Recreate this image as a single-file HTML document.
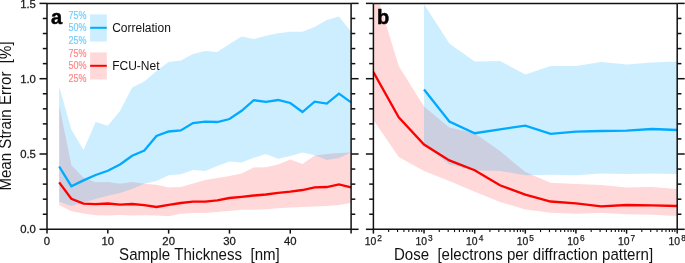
<!DOCTYPE html><html><head><meta charset="utf-8"><style>
html,body{margin:0;padding:0;background:#fff;width:685px;height:263px;overflow:hidden}
svg{display:block;will-change:transform}text{font-family:"Liberation Sans",sans-serif}
</style></head><body>
<svg width="685" height="263" viewBox="0 0 685 263">
<defs><clipPath id="ca"><rect x="47.00" y="3.40" width="304.10" height="225.90"/></clipPath>
<clipPath id="cb"><rect x="373.40" y="3.40" width="303.80" height="225.90"/></clipPath></defs>
<g clip-path="url(#ca)">
<polygon points="59.16,105.00 71.33,165.00 83.49,177.70 95.66,182.30 107.82,182.00 119.98,183.80 132.15,182.10 144.31,183.80 156.48,184.80 168.64,187.40 180.80,187.00 192.97,183.50 205.13,180.00 217.30,178.00 229.46,176.00 241.62,173.40 253.79,167.60 265.95,167.30 278.12,164.50 290.28,159.40 302.44,164.00 314.61,155.60 326.77,154.00 338.94,153.00 351.10,152.40 351.10,203.00 338.94,205.00 326.77,206.00 314.61,206.60 302.44,207.00 290.28,207.40 278.12,208.30 265.95,209.30 253.79,209.70 241.62,209.70 229.46,211.00 217.30,212.00 205.13,213.00 192.97,213.00 180.80,213.80 168.64,216.20 156.48,215.50 144.31,215.20 132.15,215.60 119.98,215.00 107.82,215.40 95.66,215.20 83.49,213.60 71.33,211.30 59.16,205.00" fill="rgb(255,217,217)"/>
<polygon points="59.16,86.40 71.33,129.40 83.49,150.00 95.66,122.00 107.82,125.70 119.98,111.00 132.15,87.50 144.31,81.50 156.48,71.00 168.64,62.00 180.80,60.60 192.97,54.00 205.13,51.00 217.30,52.00 229.46,44.00 241.62,36.40 253.79,39.00 265.95,35.80 278.12,33.30 290.28,31.80 302.44,31.80 314.61,27.00 326.77,20.00 338.94,16.60 351.10,31.80 351.10,152.40 338.94,158.00 326.77,160.00 314.61,155.30 302.44,152.40 290.28,156.00 278.12,158.70 265.95,154.00 253.79,157.80 241.62,162.40 229.46,161.60 217.30,166.00 205.13,171.00 192.97,170.00 180.80,174.20 168.64,175.30 156.48,181.00 144.31,183.80 132.15,189.00 119.98,193.00 107.82,195.70 95.66,199.00 83.49,202.50 71.33,205.90 59.16,201.70" fill="rgba(0,170,255,0.2)"/>
<polyline points="59.16,182.40 71.33,198.80 83.49,203.60 95.66,204.10 107.82,203.50 119.98,204.70 132.15,204.00 144.31,205.20 156.48,207.00 168.64,204.80 180.80,203.00 192.97,201.70 205.13,201.60 217.30,200.40 229.46,198.00 241.62,196.80 253.79,195.50 265.95,194.50 278.12,192.80 290.28,191.60 302.44,190.00 314.61,187.40 326.77,187.00 338.94,184.40 351.10,187.40" fill="none" stroke="#ff0000" stroke-width="2.3" stroke-linejoin="miter"/>
<polyline points="59.16,166.50 71.33,186.20 83.49,180.40 95.66,175.00 107.82,170.80 119.98,164.40 132.15,155.70 144.31,150.60 156.48,136.00 168.64,131.50 180.80,130.40 192.97,123.00 205.13,121.60 217.30,122.00 229.46,119.00 241.62,110.80 253.79,100.20 265.95,101.80 278.12,100.00 290.28,103.00 302.44,112.00 314.61,101.60 326.77,103.60 338.94,93.60 351.10,102.40" fill="none" stroke="#00aaff" stroke-width="2.3" stroke-linejoin="miter"/>
</g>
<g clip-path="url(#cb)">
<polygon points="373.40,-17.00 398.72,66.00 424.03,106.50 449.35,127.40 474.67,133.30 499.98,151.00 525.30,172.00 550.62,182.80 575.93,184.00 601.25,185.00 626.57,187.40 651.88,187.00 677.20,189.00 677.20,216.00 651.88,214.80 626.57,214.30 601.25,213.00 575.93,213.80 550.62,212.80 525.30,209.40 499.98,202.00 474.67,191.80 449.35,181.00 424.03,171.00 398.72,157.00 373.40,120.00" fill="rgb(255,217,217)"/>
<polygon points="424.03,4.20 449.35,43.60 474.67,61.60 499.98,61.00 525.30,74.40 550.62,66.00 575.93,66.00 601.25,62.00 626.57,64.40 651.88,62.40 677.20,61.60 677.20,174.00 651.88,173.40 626.57,174.00 601.25,173.40 575.93,175.20 550.62,174.80 525.30,175.20 499.98,171.00 474.67,170.50 449.35,164.50 424.03,145.00" fill="rgba(0,170,255,0.2)"/>
<polyline points="373.40,72.10 398.72,117.40 424.03,144.50 449.35,160.40 474.67,170.30 499.98,185.30 525.30,194.60 550.62,201.50 575.93,203.40 601.25,206.40 626.57,205.00 651.88,205.40 677.20,206.00" fill="none" stroke="#ff0000" stroke-width="2.3"/>
<polyline points="424.03,89.50 449.35,121.50 474.67,133.20 499.98,129.40 525.30,125.60 550.62,133.80 575.93,131.60 601.25,131.00 626.57,130.60 651.88,129.00 677.20,130.00" fill="none" stroke="#00aaff" stroke-width="2.3"/>
</g>
<line x1="47.00" y1="3.40" x2="47.00" y2="229.30" stroke="#111" stroke-width="1.50"/>
<line x1="351.10" y1="3.40" x2="351.10" y2="229.30" stroke="#111" stroke-width="1.50"/>
<line x1="47.00" y1="3.40" x2="351.10" y2="3.40" stroke="#111" stroke-width="1.50"/>
<line x1="47.00" y1="229.30" x2="351.10" y2="229.30" stroke="#111" stroke-width="1.50"/>
<line x1="39.50" y1="229.30" x2="47.00" y2="229.30" stroke="#111" stroke-width="1.50"/>
<line x1="351.10" y1="229.30" x2="358.60" y2="229.30" stroke="#111" stroke-width="1.50"/>
<line x1="42.80" y1="214.24" x2="47.00" y2="214.24" stroke="#111" stroke-width="1.50"/>
<line x1="351.10" y1="214.24" x2="355.30" y2="214.24" stroke="#111" stroke-width="1.50"/>
<line x1="42.80" y1="199.18" x2="47.00" y2="199.18" stroke="#111" stroke-width="1.50"/>
<line x1="351.10" y1="199.18" x2="355.30" y2="199.18" stroke="#111" stroke-width="1.50"/>
<line x1="42.80" y1="184.12" x2="47.00" y2="184.12" stroke="#111" stroke-width="1.50"/>
<line x1="351.10" y1="184.12" x2="355.30" y2="184.12" stroke="#111" stroke-width="1.50"/>
<line x1="42.80" y1="169.06" x2="47.00" y2="169.06" stroke="#111" stroke-width="1.50"/>
<line x1="351.10" y1="169.06" x2="355.30" y2="169.06" stroke="#111" stroke-width="1.50"/>
<line x1="39.50" y1="154.00" x2="47.00" y2="154.00" stroke="#111" stroke-width="1.50"/>
<line x1="351.10" y1="154.00" x2="358.60" y2="154.00" stroke="#111" stroke-width="1.50"/>
<line x1="42.80" y1="138.94" x2="47.00" y2="138.94" stroke="#111" stroke-width="1.50"/>
<line x1="351.10" y1="138.94" x2="355.30" y2="138.94" stroke="#111" stroke-width="1.50"/>
<line x1="42.80" y1="123.88" x2="47.00" y2="123.88" stroke="#111" stroke-width="1.50"/>
<line x1="351.10" y1="123.88" x2="355.30" y2="123.88" stroke="#111" stroke-width="1.50"/>
<line x1="42.80" y1="108.82" x2="47.00" y2="108.82" stroke="#111" stroke-width="1.50"/>
<line x1="351.10" y1="108.82" x2="355.30" y2="108.82" stroke="#111" stroke-width="1.50"/>
<line x1="42.80" y1="93.76" x2="47.00" y2="93.76" stroke="#111" stroke-width="1.50"/>
<line x1="351.10" y1="93.76" x2="355.30" y2="93.76" stroke="#111" stroke-width="1.50"/>
<line x1="39.50" y1="78.70" x2="47.00" y2="78.70" stroke="#111" stroke-width="1.50"/>
<line x1="351.10" y1="78.70" x2="358.60" y2="78.70" stroke="#111" stroke-width="1.50"/>
<line x1="42.80" y1="63.64" x2="47.00" y2="63.64" stroke="#111" stroke-width="1.50"/>
<line x1="351.10" y1="63.64" x2="355.30" y2="63.64" stroke="#111" stroke-width="1.50"/>
<line x1="42.80" y1="48.58" x2="47.00" y2="48.58" stroke="#111" stroke-width="1.50"/>
<line x1="351.10" y1="48.58" x2="355.30" y2="48.58" stroke="#111" stroke-width="1.50"/>
<line x1="42.80" y1="33.52" x2="47.00" y2="33.52" stroke="#111" stroke-width="1.50"/>
<line x1="351.10" y1="33.52" x2="355.30" y2="33.52" stroke="#111" stroke-width="1.50"/>
<line x1="42.80" y1="18.46" x2="47.00" y2="18.46" stroke="#111" stroke-width="1.50"/>
<line x1="351.10" y1="18.46" x2="355.30" y2="18.46" stroke="#111" stroke-width="1.50"/>
<line x1="39.50" y1="3.40" x2="47.00" y2="3.40" stroke="#111" stroke-width="1.50"/>
<line x1="351.10" y1="3.40" x2="358.60" y2="3.40" stroke="#111" stroke-width="1.50"/>
<line x1="373.40" y1="3.40" x2="373.40" y2="229.30" stroke="#111" stroke-width="1.50"/>
<line x1="677.20" y1="3.40" x2="677.20" y2="229.30" stroke="#111" stroke-width="1.50"/>
<line x1="373.40" y1="3.40" x2="677.20" y2="3.40" stroke="#111" stroke-width="1.50"/>
<line x1="373.40" y1="229.30" x2="677.20" y2="229.30" stroke="#111" stroke-width="1.50"/>
<line x1="365.90" y1="229.30" x2="373.40" y2="229.30" stroke="#111" stroke-width="1.50"/>
<line x1="677.20" y1="229.30" x2="684.70" y2="229.30" stroke="#111" stroke-width="1.50"/>
<line x1="369.20" y1="214.24" x2="373.40" y2="214.24" stroke="#111" stroke-width="1.50"/>
<line x1="677.20" y1="214.24" x2="681.40" y2="214.24" stroke="#111" stroke-width="1.50"/>
<line x1="369.20" y1="199.18" x2="373.40" y2="199.18" stroke="#111" stroke-width="1.50"/>
<line x1="677.20" y1="199.18" x2="681.40" y2="199.18" stroke="#111" stroke-width="1.50"/>
<line x1="369.20" y1="184.12" x2="373.40" y2="184.12" stroke="#111" stroke-width="1.50"/>
<line x1="677.20" y1="184.12" x2="681.40" y2="184.12" stroke="#111" stroke-width="1.50"/>
<line x1="369.20" y1="169.06" x2="373.40" y2="169.06" stroke="#111" stroke-width="1.50"/>
<line x1="677.20" y1="169.06" x2="681.40" y2="169.06" stroke="#111" stroke-width="1.50"/>
<line x1="365.90" y1="154.00" x2="373.40" y2="154.00" stroke="#111" stroke-width="1.50"/>
<line x1="677.20" y1="154.00" x2="684.70" y2="154.00" stroke="#111" stroke-width="1.50"/>
<line x1="369.20" y1="138.94" x2="373.40" y2="138.94" stroke="#111" stroke-width="1.50"/>
<line x1="677.20" y1="138.94" x2="681.40" y2="138.94" stroke="#111" stroke-width="1.50"/>
<line x1="369.20" y1="123.88" x2="373.40" y2="123.88" stroke="#111" stroke-width="1.50"/>
<line x1="677.20" y1="123.88" x2="681.40" y2="123.88" stroke="#111" stroke-width="1.50"/>
<line x1="369.20" y1="108.82" x2="373.40" y2="108.82" stroke="#111" stroke-width="1.50"/>
<line x1="677.20" y1="108.82" x2="681.40" y2="108.82" stroke="#111" stroke-width="1.50"/>
<line x1="369.20" y1="93.76" x2="373.40" y2="93.76" stroke="#111" stroke-width="1.50"/>
<line x1="677.20" y1="93.76" x2="681.40" y2="93.76" stroke="#111" stroke-width="1.50"/>
<line x1="365.90" y1="78.70" x2="373.40" y2="78.70" stroke="#111" stroke-width="1.50"/>
<line x1="677.20" y1="78.70" x2="684.70" y2="78.70" stroke="#111" stroke-width="1.50"/>
<line x1="369.20" y1="63.64" x2="373.40" y2="63.64" stroke="#111" stroke-width="1.50"/>
<line x1="677.20" y1="63.64" x2="681.40" y2="63.64" stroke="#111" stroke-width="1.50"/>
<line x1="369.20" y1="48.58" x2="373.40" y2="48.58" stroke="#111" stroke-width="1.50"/>
<line x1="677.20" y1="48.58" x2="681.40" y2="48.58" stroke="#111" stroke-width="1.50"/>
<line x1="369.20" y1="33.52" x2="373.40" y2="33.52" stroke="#111" stroke-width="1.50"/>
<line x1="677.20" y1="33.52" x2="681.40" y2="33.52" stroke="#111" stroke-width="1.50"/>
<line x1="369.20" y1="18.46" x2="373.40" y2="18.46" stroke="#111" stroke-width="1.50"/>
<line x1="677.20" y1="18.46" x2="681.40" y2="18.46" stroke="#111" stroke-width="1.50"/>
<line x1="365.90" y1="3.40" x2="373.40" y2="3.40" stroke="#111" stroke-width="1.50"/>
<line x1="677.20" y1="3.40" x2="684.70" y2="3.40" stroke="#111" stroke-width="1.50"/>
<line x1="47.00" y1="229.30" x2="47.00" y2="233.60" stroke="#111" stroke-width="1.50"/>
<line x1="107.82" y1="229.30" x2="107.82" y2="233.60" stroke="#111" stroke-width="1.50"/>
<line x1="168.64" y1="229.30" x2="168.64" y2="233.60" stroke="#111" stroke-width="1.50"/>
<line x1="229.46" y1="229.30" x2="229.46" y2="233.60" stroke="#111" stroke-width="1.50"/>
<line x1="290.28" y1="229.30" x2="290.28" y2="233.60" stroke="#111" stroke-width="1.50"/>
<line x1="351.10" y1="229.30" x2="351.10" y2="233.60" stroke="#111" stroke-width="1.50"/>
<line x1="373.40" y1="229.30" x2="373.40" y2="233.60" stroke="#111" stroke-width="1.50"/>
<line x1="388.64" y1="229.30" x2="388.64" y2="232.10" stroke="#111" stroke-width="1.10"/>
<line x1="397.56" y1="229.30" x2="397.56" y2="232.10" stroke="#111" stroke-width="1.10"/>
<line x1="403.88" y1="229.30" x2="403.88" y2="232.10" stroke="#111" stroke-width="1.10"/>
<line x1="408.79" y1="229.30" x2="408.79" y2="232.10" stroke="#111" stroke-width="1.10"/>
<line x1="412.80" y1="229.30" x2="412.80" y2="232.10" stroke="#111" stroke-width="1.10"/>
<line x1="416.19" y1="229.30" x2="416.19" y2="232.10" stroke="#111" stroke-width="1.10"/>
<line x1="419.13" y1="229.30" x2="419.13" y2="232.10" stroke="#111" stroke-width="1.10"/>
<line x1="421.72" y1="229.30" x2="421.72" y2="232.10" stroke="#111" stroke-width="1.10"/>
<line x1="424.03" y1="229.30" x2="424.03" y2="233.60" stroke="#111" stroke-width="1.50"/>
<line x1="439.28" y1="229.30" x2="439.28" y2="232.10" stroke="#111" stroke-width="1.10"/>
<line x1="448.19" y1="229.30" x2="448.19" y2="232.10" stroke="#111" stroke-width="1.10"/>
<line x1="454.52" y1="229.30" x2="454.52" y2="232.10" stroke="#111" stroke-width="1.10"/>
<line x1="459.42" y1="229.30" x2="459.42" y2="232.10" stroke="#111" stroke-width="1.10"/>
<line x1="463.43" y1="229.30" x2="463.43" y2="232.10" stroke="#111" stroke-width="1.10"/>
<line x1="466.82" y1="229.30" x2="466.82" y2="232.10" stroke="#111" stroke-width="1.10"/>
<line x1="469.76" y1="229.30" x2="469.76" y2="232.10" stroke="#111" stroke-width="1.10"/>
<line x1="472.35" y1="229.30" x2="472.35" y2="232.10" stroke="#111" stroke-width="1.10"/>
<line x1="474.67" y1="229.30" x2="474.67" y2="233.60" stroke="#111" stroke-width="1.50"/>
<line x1="489.91" y1="229.30" x2="489.91" y2="232.10" stroke="#111" stroke-width="1.10"/>
<line x1="498.82" y1="229.30" x2="498.82" y2="232.10" stroke="#111" stroke-width="1.10"/>
<line x1="505.15" y1="229.30" x2="505.15" y2="232.10" stroke="#111" stroke-width="1.10"/>
<line x1="510.06" y1="229.30" x2="510.06" y2="232.10" stroke="#111" stroke-width="1.10"/>
<line x1="514.07" y1="229.30" x2="514.07" y2="232.10" stroke="#111" stroke-width="1.10"/>
<line x1="517.46" y1="229.30" x2="517.46" y2="232.10" stroke="#111" stroke-width="1.10"/>
<line x1="520.39" y1="229.30" x2="520.39" y2="232.10" stroke="#111" stroke-width="1.10"/>
<line x1="522.98" y1="229.30" x2="522.98" y2="232.10" stroke="#111" stroke-width="1.10"/>
<line x1="525.30" y1="229.30" x2="525.30" y2="233.60" stroke="#111" stroke-width="1.50"/>
<line x1="540.54" y1="229.30" x2="540.54" y2="232.10" stroke="#111" stroke-width="1.10"/>
<line x1="549.46" y1="229.30" x2="549.46" y2="232.10" stroke="#111" stroke-width="1.10"/>
<line x1="555.78" y1="229.30" x2="555.78" y2="232.10" stroke="#111" stroke-width="1.10"/>
<line x1="560.69" y1="229.30" x2="560.69" y2="232.10" stroke="#111" stroke-width="1.10"/>
<line x1="564.70" y1="229.30" x2="564.70" y2="232.10" stroke="#111" stroke-width="1.10"/>
<line x1="568.09" y1="229.30" x2="568.09" y2="232.10" stroke="#111" stroke-width="1.10"/>
<line x1="571.03" y1="229.30" x2="571.03" y2="232.10" stroke="#111" stroke-width="1.10"/>
<line x1="573.62" y1="229.30" x2="573.62" y2="232.10" stroke="#111" stroke-width="1.10"/>
<line x1="575.93" y1="229.30" x2="575.93" y2="233.60" stroke="#111" stroke-width="1.50"/>
<line x1="591.18" y1="229.30" x2="591.18" y2="232.10" stroke="#111" stroke-width="1.10"/>
<line x1="600.09" y1="229.30" x2="600.09" y2="232.10" stroke="#111" stroke-width="1.10"/>
<line x1="606.42" y1="229.30" x2="606.42" y2="232.10" stroke="#111" stroke-width="1.10"/>
<line x1="611.32" y1="229.30" x2="611.32" y2="232.10" stroke="#111" stroke-width="1.10"/>
<line x1="615.33" y1="229.30" x2="615.33" y2="232.10" stroke="#111" stroke-width="1.10"/>
<line x1="618.72" y1="229.30" x2="618.72" y2="232.10" stroke="#111" stroke-width="1.10"/>
<line x1="621.66" y1="229.30" x2="621.66" y2="232.10" stroke="#111" stroke-width="1.10"/>
<line x1="624.25" y1="229.30" x2="624.25" y2="232.10" stroke="#111" stroke-width="1.10"/>
<line x1="626.57" y1="229.30" x2="626.57" y2="233.60" stroke="#111" stroke-width="1.50"/>
<line x1="641.81" y1="229.30" x2="641.81" y2="232.10" stroke="#111" stroke-width="1.10"/>
<line x1="650.72" y1="229.30" x2="650.72" y2="232.10" stroke="#111" stroke-width="1.10"/>
<line x1="657.05" y1="229.30" x2="657.05" y2="232.10" stroke="#111" stroke-width="1.10"/>
<line x1="661.96" y1="229.30" x2="661.96" y2="232.10" stroke="#111" stroke-width="1.10"/>
<line x1="665.97" y1="229.30" x2="665.97" y2="232.10" stroke="#111" stroke-width="1.10"/>
<line x1="669.36" y1="229.30" x2="669.36" y2="232.10" stroke="#111" stroke-width="1.10"/>
<line x1="672.29" y1="229.30" x2="672.29" y2="232.10" stroke="#111" stroke-width="1.10"/>
<line x1="674.88" y1="229.30" x2="674.88" y2="232.10" stroke="#111" stroke-width="1.10"/>
<line x1="677.20" y1="229.30" x2="677.20" y2="233.60" stroke="#111" stroke-width="1.50"/>
<text transform="translate(35.9,233.40) scale(1.090,1)" text-anchor="end" font-size="10.4px" fill="#1a1a1a" stroke="#1a1a1a" stroke-width="0.25">0.0</text>
<text transform="translate(35.9,158.10) scale(1.090,1)" text-anchor="end" font-size="10.4px" fill="#1a1a1a" stroke="#1a1a1a" stroke-width="0.25">0.5</text>
<text transform="translate(35.9,82.80) scale(1.090,1)" text-anchor="end" font-size="10.4px" fill="#1a1a1a" stroke="#1a1a1a" stroke-width="0.25">1.0</text>
<text transform="translate(35.9,7.50) scale(1.090,1)" text-anchor="end" font-size="10.4px" fill="#1a1a1a" stroke="#1a1a1a" stroke-width="0.25">1.5</text>
<text transform="translate(47.00,245.0) scale(1.090,1)" text-anchor="middle" font-size="10.4px" fill="#1a1a1a" stroke="#1a1a1a" stroke-width="0.25">0</text>
<text transform="translate(107.82,245.0) scale(1.090,1)" text-anchor="middle" font-size="10.4px" fill="#1a1a1a" stroke="#1a1a1a" stroke-width="0.25">10</text>
<text transform="translate(168.64,245.0) scale(1.090,1)" text-anchor="middle" font-size="10.4px" fill="#1a1a1a" stroke="#1a1a1a" stroke-width="0.25">20</text>
<text transform="translate(229.46,245.0) scale(1.090,1)" text-anchor="middle" font-size="10.4px" fill="#1a1a1a" stroke="#1a1a1a" stroke-width="0.25">30</text>
<text transform="translate(290.28,245.0) scale(1.090,1)" text-anchor="middle" font-size="10.4px" fill="#1a1a1a" stroke="#1a1a1a" stroke-width="0.25">40</text>
<text x="364.80" y="245.0" font-size="10.4px" fill="#1a1a1a" stroke="#1a1a1a" stroke-width="0.25">10<tspan font-size="8.3px" dx="1.0" dy="-4.3">2</tspan></text>
<text x="415.43" y="245.0" font-size="10.4px" fill="#1a1a1a" stroke="#1a1a1a" stroke-width="0.25">10<tspan font-size="8.3px" dx="1.0" dy="-4.3">3</tspan></text>
<text x="466.07" y="245.0" font-size="10.4px" fill="#1a1a1a" stroke="#1a1a1a" stroke-width="0.25">10<tspan font-size="8.3px" dx="1.0" dy="-4.3">4</tspan></text>
<text x="516.70" y="245.0" font-size="10.4px" fill="#1a1a1a" stroke="#1a1a1a" stroke-width="0.25">10<tspan font-size="8.3px" dx="1.0" dy="-4.3">5</tspan></text>
<text x="567.33" y="245.0" font-size="10.4px" fill="#1a1a1a" stroke="#1a1a1a" stroke-width="0.25">10<tspan font-size="8.3px" dx="1.0" dy="-4.3">6</tspan></text>
<text x="617.97" y="245.0" font-size="10.4px" fill="#1a1a1a" stroke="#1a1a1a" stroke-width="0.25">10<tspan font-size="8.3px" dx="1.0" dy="-4.3">7</tspan></text>
<text x="668.60" y="245.0" font-size="10.4px" fill="#1a1a1a" stroke="#1a1a1a" stroke-width="0.25">10<tspan font-size="8.3px" dx="1.0" dy="-4.3">8</tspan></text>
<text transform="translate(119.1,259.6) scale(1,1.05)" font-size="15.1px" fill="#111" xml:space="preserve">Sample Thickness  [nm]</text>
<text transform="translate(393.9,259.6) scale(1,1.05)" font-size="15.07px" fill="#111" xml:space="preserve">Dose  [electrons per diffraction pattern]</text>
<text transform="translate(10.6,190.6) rotate(-90) scale(1,1.05)" font-size="15.1px" fill="#111" xml:space="preserve">Mean Strain Error  [%]</text>
<text x="51.1" y="23.8" font-size="20px" font-weight="bold" fill="#000" stroke="#000" stroke-width="0.5">a</text>
<text x="376.9" y="23.8" font-size="20px" font-weight="bold" fill="#000" stroke="#000" stroke-width="0.5">b</text>
<rect x="90.1" y="14.4" width="16.7" height="27.1" fill="rgb(204,238,255)"/>
<line x1="90.1" y1="27.8" x2="106.8" y2="27.8" stroke="#00aaff" stroke-width="2.0"/>
<rect x="90.1" y="52.4" width="16.7" height="27.1" fill="rgb(255,217,217)"/>
<line x1="90.1" y1="65.8" x2="106.8" y2="65.8" stroke="#ff0000" stroke-width="2.0"/>
<text transform="translate(68.5,18.8) scale(0.875,1)" font-size="10.3px" stroke-width="0.2" fill="rgb(115,205,252)" stroke="rgb(115,205,252)">75%</text>
<text transform="translate(68.5,31.2) scale(0.875,1)" font-size="10.3px" stroke-width="0.2" fill="rgb(115,205,252)" stroke="rgb(115,205,252)">50%</text>
<text transform="translate(68.5,43.7) scale(0.875,1)" font-size="10.3px" stroke-width="0.2" fill="rgb(115,205,252)" stroke="rgb(115,205,252)">25%</text>
<text transform="translate(68.5,56.8) scale(0.875,1)" font-size="10.3px" stroke-width="0.2" fill="rgb(255,135,135)" stroke="rgb(255,135,135)">75%</text>
<text transform="translate(68.5,69.0) scale(0.875,1)" font-size="10.3px" stroke-width="0.2" fill="rgb(255,135,135)" stroke="rgb(255,135,135)">50%</text>
<text transform="translate(68.5,81.5) scale(0.875,1)" font-size="10.3px" stroke-width="0.2" fill="rgb(255,135,135)" stroke="rgb(255,135,135)">25%</text>
<text x="112.2" y="31.6" font-size="12px" fill="#111">Correlation</text>
<text x="112.2" y="70" font-size="12px" fill="#111">FCU-Net</text>
</svg></body></html>
